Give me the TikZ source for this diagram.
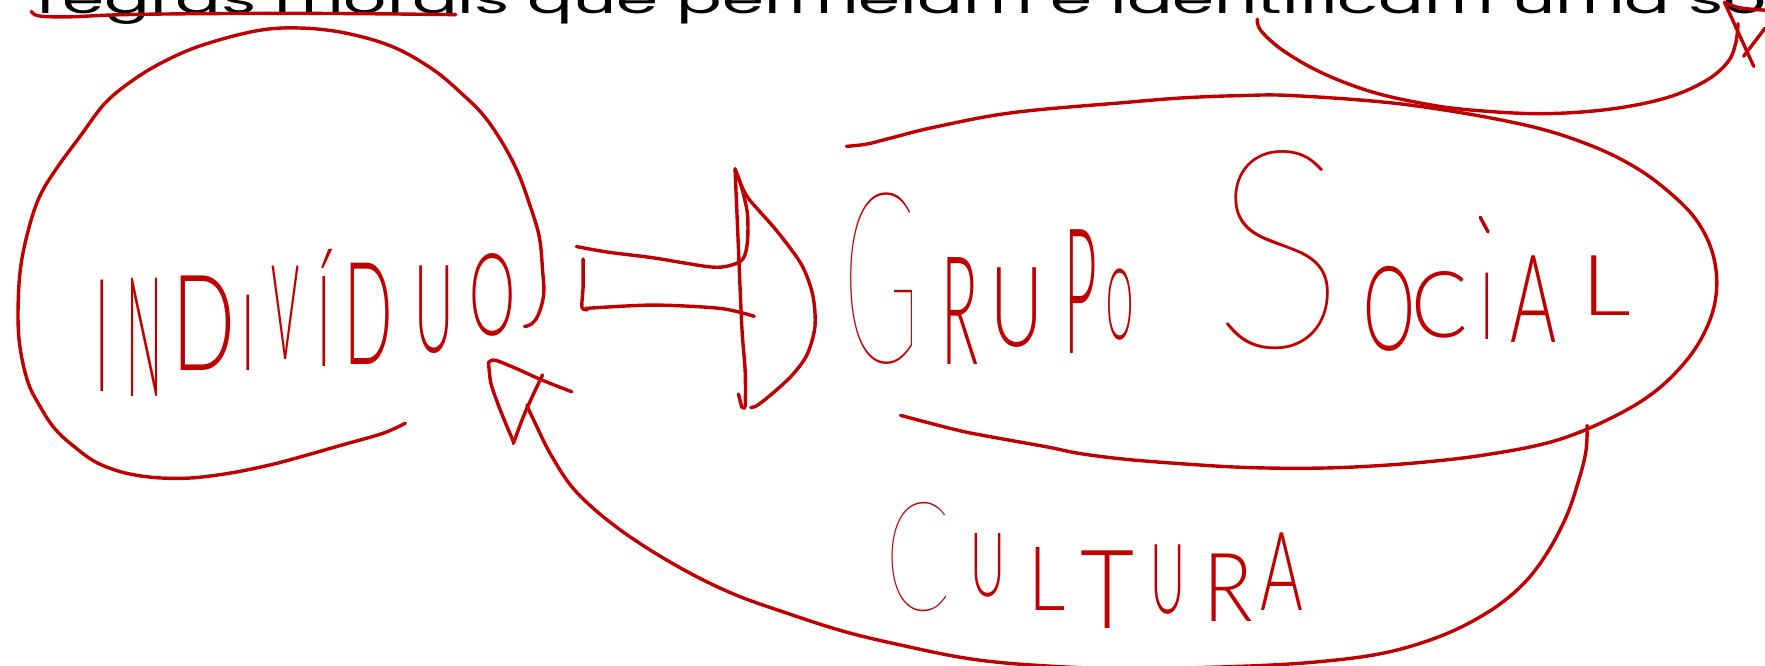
\documentclass[tikz,border=0pt]{standalone}
\usepackage{fontspec}
\setmainfont{Liberation Sans}
\newfontfamily\topfont{Poppins}
\IfFontExistsTF{Lato Light}{\newfontfamily\hand{Lato Light}}{\newfontfamily\hand{Lato}}
\IfFontExistsTF{Lato Thin}{\newfontfamily\handthin{Lato Thin}}{\newfontfamily\handthin{Lato Light}}
\usepackage{graphicx}
\definecolor{pen}{HTML}{C00000}
\newlength\un \setlength\un{0.5625pt}
\newcommand\hwtxt[3]{\resizebox{#1}{#2}{\raisebox{0pt}[\fontcharht\font`I][0pt]{#3}}}
\newcommand\Lt[5]{\hspace*{#1\un}\raisebox{#4\un}{\hwtxt{#2\un}{#3\un}{#5}}}
\newcommand\LtT[5]{\hspace*{#1\un}\raisebox{#4\un}{\handthin\hwtxt{#2\un}{#3\un}{#5}}}
\newcommand\It[5]{\hspace*{#1\un}\raisebox{#4\un}{\makebox[#2\un][c]{\hwtxt{12\un}{#3\un}{#5}}}}
\begin{document}
\begin{tikzpicture}[x=0.5625pt,y=-0.5625pt,
  pen/.style={draw=pen, line width=1.7pt, line cap=round, line join=round},
  hw/.style={text=pen, inner sep=0pt, outer sep=0pt, font=\hand\fontsize{40}{40}\selectfont}]
\useasboundingbox (0,0) rectangle (1568,591);
\clip (0,0) rectangle (1568,591);
% top text
\node[anchor=base west, inner sep=0pt] (top) at (33,12) {\scalebox{1}[0.6]{\resizebox{816pt}{!}{\topfont regras morais que permeiam e identificam uma\rlap{ so}}}};
% underline
\draw[pen] plot[smooth,tension=.6] coordinates {(28,10)(34,14)(60,15)(110,13)(200,12)(300,12)(405,13)};
% individuo loop
\draw[pen] plot[smooth,tension=.6] coordinates {(360,376)(340,385)(305,395)(270,405)(240,413)(200,421)(160,425)(120,422)(88,412)(65,396)(48,380)(35,360)(25,340)(18,310)(16,280)(18,240)(25,205)(35,175)(50,150)(72,120)(93,92)(117,72)(145,55)(180,40)(230,27)(270,25)(310,30)(350,42)(385,62)(410,83)(430,103)(447,128)(460,153)(470,180)(479,210)(482,240)(483,262)(478,280)(472,288)(466,290)};
\node[hw, anchor=base west] (ind) at (89,348) {\It{0}{4}{99}{0}{I}\Lt{19}{32}{105}{-4}{N}\Lt{9}{56}{84}{19}{D}\It{10}{3}{67}{19}{I}\Lt{19}{25}{83}{29}{V}\It{19}{7}{80}{22}{Í}\Lt{14}{43}{90}{24}{D}\Lt{19}{35}{77}{35}{U}\Lt{14}{41}{72}{50}{O}};
% block arrow
\draw[pen] plot[smooth,tension=.5] coordinates {(512,219)(540,224)(580,229)(630,237)(648,236)(660,230)(664,215)(664,190)(659,167)(653,150)};
\draw[pen] plot[smooth,tension=.5] coordinates {(518,230)(518,255)(517,273)(522,275)};
\draw[pen] plot[smooth,tension=.5] coordinates {(520,274)(580,271)(640,274)(670,281)};
\draw[pen] plot[smooth,tension=.5] coordinates {(653,150)(656,220)(659,290)(662,330)(662,360)(660,362)};
\draw[pen] (656,350) -- (659,362);
\draw[pen] plot[smooth,tension=.5] coordinates {(655,155)(664,175)(690,205)(712,235)(722,262)(724,290)(717,315)(704,333)(688,348)(673,360)(667,362)};
% grupo social loop
\draw[pen] plot[smooth,tension=.6] coordinates {(752,130)(770,128)(790,123)(830,113)(900,100)(1000,91)(1050,87)(1100,85)(1150,85)(1250,93)(1350,110)(1410,128)(1455,150)(1490,177)(1510,200)(1522,227)(1525,257)(1518,287)(1500,318)(1470,348)(1430,372)(1380,392)(1320,404)(1260,411)(1200,415)(1150,416)(1100,415)(1050,412)(1000,408)(960,403)(930,397)(880,388)(850,382)(800,369)};
\node[hw, anchor=base west] (grupo) at (749,320) {\LtT{0}{68}{149}{-2}{G}\Lt{19}{33}{95}{-4}{R}\Lt{11}{47}{70}{12}{U}\Lt{19}{29}{110}{6}{P}\Lt{8}{24}{62}{18}{O}};
\node[hw, anchor=base west] (social) at (1077,309) {\LtT{0}{118}{173}{0}{S}\Lt{16}{46}{74}{-2}{O}\Lt{-3}{50}{58}{9}{C}\It{11}{13}{59}{7}{I}\Lt{14}{41}{77}{5}{A}\Lt{22}{44}{53}{29}{L}};
\draw[pen] (1315,193) -- (1322,206);
% top right curve
\draw[pen] plot[smooth,tension=.6] coordinates {(1117,17)(1120,27)(1140,45)(1175,65)(1220,82)(1270,93)(1310,98)(1370,101)(1430,97)(1480,87)(1515,72)(1535,55)(1542,38)(1544,21)};
\draw[pen] plot[smooth,tension=.6] coordinates {(1532,2)(1546,7)(1568,9)};
\draw[pen] (1532,2) -- (1558,59);
\draw[pen] (1549,50) -- (1568,25);
% bottom arrow
\draw[pen] plot[smooth,tension=.6] coordinates {(1410,378)(1409,400)(1403,425)(1391,460)(1372,495)(1350,522)(1320,545)(1280,565)(1230,580)(1170,588)(1100,592)(1000,594)(920,591)(860,585)(800,573)(750,561)(700,545)(650,527)(600,502)(550,470)(512,437)(490,405)(475,375)(468,360)};
\draw[pen] plot[smooth,tension=.5] coordinates {(434,322)(436,340)(442,358)(450,378)(456,392)};
\draw[pen] plot[smooth,tension=.5] coordinates {(456,394)(465,370)(473,352)(482,333)};
\draw[pen] plot[smooth,tension=.5] coordinates {(434,322)(440,320)(460,328)(480,337)(500,345)(508,348)};
\node[hw, anchor=base west] (cultura) at (787,540) {\LtT{0}{58}{95}{-2}{C}\Lt{17}{31}{56}{10}{U}\Lt{21}{33}{56}{-2}{L}\Lt{13}{48}{69}{-18}{T}\Lt{14}{31}{61}{-5}{U}\Lt{16}{44}{60}{-12}{R}\Lt{7}{38}{69}{-2}{A}};
\end{tikzpicture}
\end{document}
